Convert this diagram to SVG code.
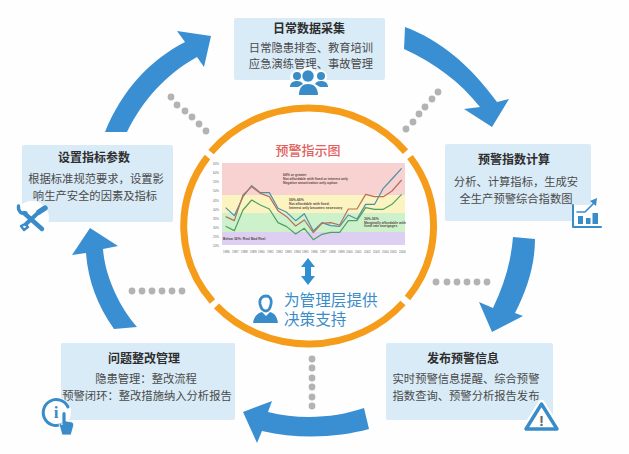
<svg xmlns="http://www.w3.org/2000/svg" width="629" height="454" viewBox="0 0 629 454">
<style>
.box{fill:#d9ebf7}
.t{font-family:"Noto Sans CJK SC","Liberation Sans",sans-serif;font-size:12px;font-weight:700;fill:#2e2e2e;text-anchor:middle}
.b{font-family:"Noto Sans CJK SC","Liberation Sans",sans-serif;font-size:11.3px;fill:#4a4a4a;text-anchor:middle}
.arrow{fill:#3a8fd3}
.dot{fill:#b3b3b3}
.ring{fill:none;stroke:#f59c1a;stroke-width:7}
.ic{fill:#3a8cc8}
.icl{fill:none;stroke:#3a8cc8;stroke-linecap:round;stroke-linejoin:round}
.halo{fill:#fff}
.sm{font-family:"Liberation Sans",sans-serif;font-size:3.4px;font-weight:700;fill:#5a4a4a}
.ax{font-family:"Liberation Sans",sans-serif;font-size:3px;fill:#666}
.sup{font-family:"Liberation Sans","Noto Sans CJK SC",sans-serif;font-size:15.6px;fill:#3a8cc8}
</style>
<rect width="629" height="454" fill="#fefefe"/>

<g id="connectors">
<path class="arrow" d="M405 27C440 40 470 65 497 102L509 99L492 127L464 109L480 107C460 82 435 63 404 49Z"/>
<path class="arrow" d="M513 237L535 239C535 265 527 290 515 313L523 316L492 332L479 302L493 308C504 285 511 262 513 237Z"/>
<path class="arrow" d="M364 408L369 429C340 437 300 440 262 431L257 443L243 412L272 401L268 412C300 420 335 418 364 408Z"/>
<path class="arrow" d="M90 228L118 246L103 249C105 275 118 305 137 327L114 329C97 305 88 280 86 253L72 255Z"/>
<path class="arrow" d="M105 132L127 132C143 100 165 75 197 57L204 67L211 36L177 31L185 42C150 60 122 90 105 132Z"/>
<g class="dot">
<circle cx="171" cy="97" r="3.4"/><circle cx="177" cy="105" r="3.4"/><circle cx="185" cy="111" r="3.4"/><circle cx="192" cy="117" r="3.4"/><circle cx="199" cy="124" r="3.4"/><circle cx="206" cy="131" r="3.4"/>
<circle cx="438" cy="92" r="3.4"/><circle cx="432" cy="99" r="3.4"/><circle cx="425" cy="107" r="3.4"/><circle cx="419" cy="114" r="3.4"/><circle cx="413" cy="122" r="3.4"/><circle cx="406" cy="129" r="3.4"/>
<circle cx="436" cy="282" r="3.4"/><circle cx="447" cy="282" r="3.4"/><circle cx="457" cy="282" r="3.4"/><circle cx="467" cy="282" r="3.4"/><circle cx="477" cy="282" r="3.4"/><circle cx="487" cy="282" r="3.4"/>
<circle cx="132" cy="291" r="3.4"/><circle cx="142" cy="291" r="3.4"/><circle cx="152" cy="291" r="3.4"/><circle cx="162" cy="291" r="3.4"/><circle cx="172" cy="291" r="3.4"/><circle cx="182" cy="291" r="3.4"/>
<circle cx="312" cy="359" r="3.4"/><circle cx="312" cy="368" r="3.4"/><circle cx="312" cy="378" r="3.4"/><circle cx="312" cy="387" r="3.4"/><circle cx="312" cy="397" r="3.4"/><circle cx="312" cy="406" r="3.4"/>
</g>
</g>

<g id="ring">
<path class="ring" d="M211 152A125 118 0 0 1 405.5 151.6"/>
<path class="ring" d="M410 157A125 118 0 0 1 407.5 298"/>
<path class="ring" d="M403 303A125 118 0 0 1 216.5 306"/>
<path class="ring" d="M212.5 301.5A125 118 0 0 1 207.5 157"/>
</g>

<g id="chart">
<text x="308" y="155" text-anchor="middle" style="font-family:'Noto Sans CJK SC',sans-serif;font-size:13px;font-weight:500;fill:#e2605c">预警指示图</text>
<rect x="222" y="163" width="183" height="32" fill="#f8d2d0"/>
<rect x="222" y="195" width="183" height="18" fill="#fbf3c0"/>
<rect x="222" y="213" width="183" height="19" fill="#cdf2cb"/>
<rect x="222" y="232" width="183" height="13" fill="#dccff2"/>
<g transform="translate(210 155) scale(.3333)" fill="none" stroke-width="3.6" stroke-linejoin="round">
<polyline stroke="#4d8fa8" points="47,158 73,182 99,125 125,92 151,113 178,113 204,160 230,172 257,197 283,176 310,228 336,203 362,212 389,214 415,180 441,192 467,148 494,148 520,100 546,72 575,40"/>
<polyline stroke="#b5705c" points="47,185 73,197 99,120 125,95 151,115 178,125 204,167 230,185 257,213 283,195 310,233 336,205 362,203 389,210 415,162 441,162 467,118 494,125 520,125 546,108 575,75"/>
<polyline stroke="#4fa063" points="47,214 73,227 99,165 125,135 151,150 178,162 204,203 230,215 257,237 283,220 310,254 336,238 362,232 389,232 415,197 441,197 467,158 494,163 520,163 546,148 575,118"/>
</g>
<text class="sm" x="283" y="176">66% or greater</text>
<text class="sm" x="283" y="180">Not affordable with fixed or interest only</text>
<text class="sm" x="283" y="183.5">Negative amortization only option</text>
<text class="sm" x="289" y="201">56%-66%</text>
<text class="sm" x="289" y="205">Not affordable with fixed;</text>
<text class="sm" x="289" y="208.5">Interest only becomes necessary</text>
<text class="sm" x="364" y="220">36%-56%</text>
<text class="sm" x="364" y="223.5">Marginally affordable with</text>
<text class="sm" x="364" y="227">fixed rate mortgages</text>
<text class="sm" x="223" y="240">Below 36%: Real Bad Real</text>
<g class="ax">
<text x="213" y="165">65%</text><text x="213" y="174">60%</text><text x="213" y="183">55%</text><text x="213" y="192">50%</text><text x="213" y="202">45%</text><text x="213" y="211">40%</text><text x="213" y="220">35%</text><text x="213" y="229">30%</text><text x="213" y="238">25%</text><text x="213" y="247">20%</text>
<text x="223" y="253">1986</text><text x="232" y="253">1987</text><text x="241" y="253">1988</text><text x="250" y="253">1989</text><text x="258" y="253">1990</text><text x="267" y="253">1991</text><text x="276" y="253">1992</text><text x="285" y="253">1993</text><text x="294" y="253">1994</text><text x="302" y="253">1995</text><text x="311" y="253">1996</text><text x="320" y="253">1997</text><text x="329" y="253">1998</text><text x="338" y="253">1999</text><text x="346" y="253">2000</text><text x="355" y="253">2001</text><text x="364" y="253">2002</text><text x="373" y="253">2003</text><text x="382" y="253">2004</text><text x="390" y="253">2005</text><text x="399" y="253">2006</text>
</g>
</g>

<g id="support">
<path fill="#2f8fd0" d="M308 258L315 267H311V276H315L308 285L301 276H305V267H301Z"/>
<g id="manager">
<path class="icl" stroke-width="2.8" d="M260 304C259 298 263 296 266 296C269 296 272 298 271 304C270 309 268 311 266 311C263 311 261 309 260 304Z"/>
<path class="ic" d="M253 323C254 316 258 313 262 312L266 316L270 312C274 313 277 316 278 323Z"/>
</g>
<text class="sup" x="284" y="306">为管理层提供</text>
<text class="sup" x="284" y="324.5">决策支持</text>
</g>

<g id="node-collect">
<rect class="box" x="234" y="18" width="151" height="62" rx="2"/>
<text class="t" x="309" y="33">日常数据采集</text>
<text class="b" x="311" y="52">日常隐患排查、教育培训</text>
<text class="b" x="311" y="68">应急演练管理、事故管理</text>
<circle class="halo" cx="297" cy="77" r="7"/><circle class="halo" cx="320" cy="77" r="7"/><circle class="halo" cx="308" cy="76" r="9"/>
<circle class="ic" cx="297" cy="76" r="4"/><circle class="ic" cx="321" cy="76" r="4"/>
<path class="ic" d="M290 87C290 83 293 81 297 81C300 81 302 82 303 84L298 87ZM328 87C328 83 325 81 321 81C318 81 316 82 315 84L320 87Z"/>
<circle class="ic" cx="308" cy="76" r="6" stroke="#fff" stroke-width=".5"/>
<path class="ic" d="M299 95C299 87 303 84 308 84C313 84 318 87 318 95Z"/>
</g>

<g id="node-calc">
<rect class="box" x="445" y="144" width="146" height="77" rx="2"/>
<text class="t" x="514" y="164">预警指数计算</text>
<text class="b" x="516" y="186">分析、计算指标，生成安</text>
<text class="b" x="516" y="203">全生产预警综合指数图</text>
<rect class="halo" x="572" y="205" width="31" height="25"/>
<path class="icl" stroke-width="2" d="M573 205V227H601"/>
<rect class="ic" x="578" y="216" width="5" height="8"/><rect class="ic" x="586" y="218" width="4.5" height="6"/><rect class="ic" x="592.5" y="213" width="5.5" height="11"/>
<path class="icl" stroke-width="1.6" d="M577 212H585L594 203"/>
<path class="ic" d="M590 201L597 198L596 206Z"/>
</g>

<g id="node-publish">
<rect class="box" x="386" y="343" width="167" height="77" rx="2"/>
<text class="t" x="463" y="363">发布预警信息</text>
<text class="b" x="466" y="383">实时预警信息提醒、综合预警</text>
<text class="b" x="466" y="400">指数查询、预警分析报告发布</text>
<path d="M541.5 404L526 429H557Z" fill="#fff" stroke="#fff" stroke-width="8" stroke-linejoin="round"/>
<path d="M541.5 404L526 429H557Z" fill="#fff" stroke="#3a8cc8" stroke-width="3.4" stroke-linejoin="round"/>
<text x="541.5" y="426" text-anchor="middle" style="font-family:'Liberation Sans',sans-serif;font-size:15px;font-weight:700;fill:#666">!</text>
</g>

<g id="node-fix">
<rect class="box" x="61" y="343" width="174" height="77" rx="2"/>
<text class="t" x="144" y="363">问题整改管理</text>
<text class="b" x="146" y="383">隐患管理：整改流程</text>
<text class="b" x="147" y="400">预警闭环：整改措施纳入分析报告</text>
<circle cx="56" cy="412" r="15" fill="#fff"/>
<path class="icl" stroke-width="3" d="M64 423A13 13 0 1 1 68 407"/>
<text x="56" y="418" text-anchor="middle" style="font-family:'Liberation Serif',serif;font-size:17px;font-weight:700;fill:#3a8cc8">i</text>
<path class="ic" stroke="#fff" stroke-width=".8" d="M62 414C62 411 66 411 66 414V421L72 422C74 423 74 425 73 428L71 435H62L59 424C60 422 61 423 62 425Z"/>
</g>

<g id="node-params">
<rect class="box" x="22" y="145" width="151" height="77" rx="2"/>
<text class="t" x="94" y="162">设置指标参数</text>
<text class="b" x="96" y="183">根据标准规范要求，设置影</text>
<text class="b" x="95" y="200">响生产安全的因素及指标</text>
<circle class="halo" cx="32" cy="218" r="17"/>
<path class="icl" stroke-width="4.4" d="M24 213L42 229"/>
<path class="icl" stroke-width="3.4" d="M18.500 206C18 211 21 214.500 26 213"/>
<path class="icl" stroke-width="2.4" d="M21 226L24 230L28 227L25 224Z"/>
<path class="icl" stroke-width="4" d="M26 224L39 212"/>
<path class="icl" stroke-width="5.400" d="M39 212L45 208"/>
</g>
</svg>
